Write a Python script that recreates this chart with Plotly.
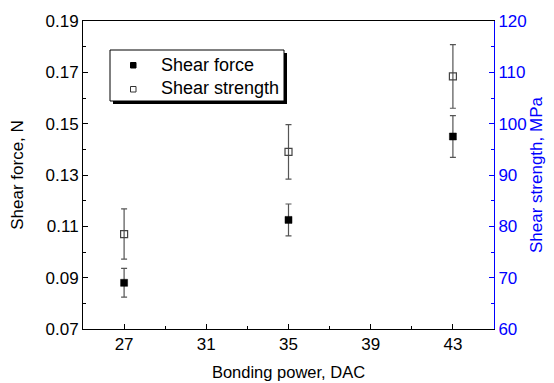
import plotly.graph_objects as go

power = [27, 35, 43]
shear_force = [0.088, 0.1125, 0.145]
shear_force_err = [0.0056, 0.0062, 0.0081]
shear_strength = [78.5, 94.5, 109.2]
shear_strength_err = [4.9, 5.3, 6.2]

x_ticks = [27, 31, 35, 39, 43]
y_ticks = [0.07, 0.09, 0.11, 0.13, 0.15, 0.17, 0.19]
y2_ticks = [60, 70, 80, 90, 100, 110, 120]
legend_names = ["Shear force", "Shear strength"]

FONT = "Arial, Liberation Sans, sans-serif"
BLUE = "#0000ff"

# page body has an 8px margin -> figure placed at (8, 8) in the window
OFF = 8
W, H = 554 - OFF, 383 - OFF
L, R, T, B = 83 - OFF, 60, 21 - OFF, 383 - 329
PW, PH = 494 - 83, 329 - 21


def px(x):  # window pixel x -> paper
    return (x - 83) / PW


def py(y):  # window pixel y -> paper
    return (329 - y) / PH


fig = go.Figure()
fig.add_trace(go.Scatter(
    x=power, y=shear_force, mode="markers", name=legend_names[0],
    marker=dict(symbol="square", size=7, color="black", line=dict(color="black", width=0.5)),
    error_y=dict(type="data", array=shear_force_err, color="#555555", thickness=1.2, width=3),
))
fig.add_trace(go.Scatter(
    x=power, y=shear_strength, mode="markers", name=legend_names[1], yaxis="y2",
    marker=dict(symbol="square-open", size=7, color="#444444", line=dict(width=1.2)),
    error_y=dict(type="data", array=shear_strength_err, color="#555555", thickness=1.2, width=3),
))

# hand-drawn legend box with drop shadow
fig.add_shape(type="rect", xref="paper", yref="paper",
              x0=px(113), x1=px(287), y0=py(104), y1=py(53),
              fillcolor="black", line=dict(width=0), layer="above")
fig.add_shape(type="rect", xref="paper", yref="paper",
              x0=px(110), x1=px(284), y0=py(101), y1=py(50),
              fillcolor="white", line=dict(color="black", width=1), layer="above")
# legend symbols
fig.add_shape(type="rect", xref="paper", yref="paper",
              x0=px(130.5), x1=px(136), y0=py(68), y1=py(62.5),
              fillcolor="black", line=dict(color="black", width=1), layer="above")
fig.add_shape(type="rect", xref="paper", yref="paper",
              x0=px(130.5), x1=px(136), y0=py(92), y1=py(86.5),
              fillcolor="white", line=dict(color="#333333", width=1), layer="above")
for name, yy in zip(legend_names, [65, 88]):
    fig.add_annotation(xref="paper", yref="paper", x=px(159), y=py(yy),
                       text=name, showarrow=False, xanchor="left", yanchor="middle",
                       font=dict(size=18, color="black", family=FONT))

fig.update_layout(
    width=W, height=H,
    margin=dict(l=L, r=R, t=T, b=B),
    paper_bgcolor="white", plot_bgcolor="white",
    font=dict(family=FONT, size=17, color="black"),
    showlegend=False,
    xaxis=dict(
        range=[25, 45], tickvals=x_ticks, ticktext=[str(v) for v in x_ticks],
        ticks="inside", ticklen=5, tickcolor="black", automargin=False,
        minor=dict(ticks="inside", ticklen=3, tickcolor="black", dtick=2, tick0=27),
        showline=True, linecolor="black", linewidth=1, mirror=True,
        showgrid=False, zeroline=False,
        title=dict(text="Bonding power, DAC", font=dict(size=16.5), standoff=13),
        tickfont=dict(size=17),
    ),
    yaxis=dict(
        range=[0.07, 0.19], tickvals=y_ticks, ticktext=[f"{v:.2f}" for v in y_ticks],
        ticks="inside", ticklen=5, tickcolor="black", automargin=False,
        minor=dict(ticks="inside", ticklen=3, tickcolor="black", dtick=0.01, tick0=0.07),
        showline=True, linecolor="black", linewidth=1,
        showgrid=False, zeroline=False,
        title=dict(text="Shear force, N", font=dict(size=17), standoff=17),
        tickfont=dict(size=17),
    ),
    yaxis2=dict(
        range=[60, 120], tickvals=y2_ticks, ticktext=[str(v) for v in y2_ticks],
        overlaying="y", side="right", automargin=False,
        ticks="inside", ticklen=5, tickcolor=BLUE,
        minor=dict(ticks="inside", ticklen=3, tickcolor=BLUE, dtick=5, tick0=60),
        showline=True, linecolor=BLUE, linewidth=1,
        showgrid=False, zeroline=False,
        title=dict(text="Shear strength, MPa", font=dict(size=17, color=BLUE), standoff=3),
        tickfont=dict(size=17, color=BLUE),
    ),
)

fig.write_html("out.html")
